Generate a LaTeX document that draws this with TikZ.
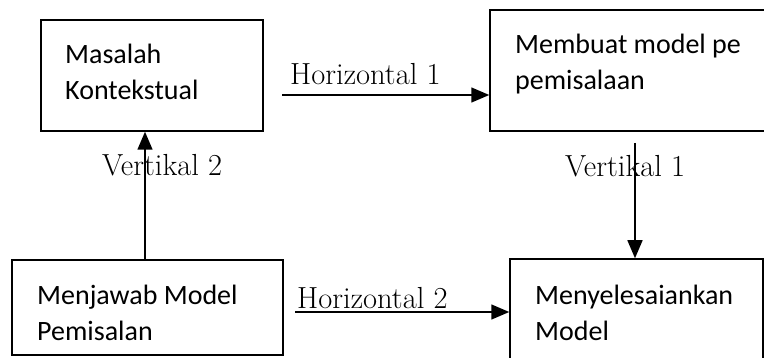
\documentclass[tikz,border=0pt]{standalone}
\usepackage{fontspec}
\newfontfamily\boxfont{Carlito}
\usetikzlibrary{arrows.meta,positioning,calc}

\tikzset{
  kotak/.style={draw, line width=1.5pt, inner sep=0pt},
  isi/.style={inner sep=0pt, align=left, anchor=base west,
    font=\boxfont\fontsize{28}{36.5}\selectfont},
  judul/.style={inner sep=0pt, anchor=base west,
    font=\fontsize{30.5}{36}\selectfont},
  panah/.style={line width=1.5pt, -{Triangle[length=18pt,width=15pt]}}
}

\begin{document}
\begin{tikzpicture}[x=1pt,y=-1pt]
  \useasboundingbox (0,0) rectangle (764,358);

  % Boxes
  \node[kotak, minimum width=222pt, minimum height=111pt] (masalah) at (152,75.5) {};
  \node[kotak, minimum width=285pt, minimum height=121pt] (model) at (632.5,70.5) {};
  \node[kotak, minimum width=271pt, minimum height=95pt] (jawab) at (147.5,307.5) {};
  \node[kotak, minimum width=253pt, minimum height=113pt] (selesai) at (636.5,315.5) {};

  % Box texts (anchored at the last line)
  \node[isi] (tmasalah) at (65,100) {Masalah\\Kontekstual};
  \node[isi] (tmodel) at (515,90) {Membuat model pe\\pemisalaan};
  \node[isi] (tjawab) at (37,341) {Menjawab Model\\Pemisalan};
  \node[isi] (tselesai) at (535,341) {Menyelesaiankan\\Model};

  % Connectors
  \coordinate (h1) at (282,95);
  \coordinate (h2) at (295,312);
  \coordinate (v1) at (635,143);
  \draw[panah] (h1) -- (h1 -| model.west);
  \draw[panah] (h2) -- (h2 -| selesai.west);
  \draw[panah] (v1) -- (v1 |- selesai.north);
  \draw[panah] ([xshift=-2.5pt]jawab.north) -- ([xshift=-2.5pt]jawab.north |- masalah.south);

  % Labels
  \node[judul] (lh1) at (290,85) {Horizontal 1};
  \node[judul] (lh2) at (297,309) {Horizontal 2};
  \node[judul] (lv1) at (565,177) {Vertikal 1};
  \node[judul] (lv2) at (102,176) {Vertikal 2};
\end{tikzpicture}
\end{document}
